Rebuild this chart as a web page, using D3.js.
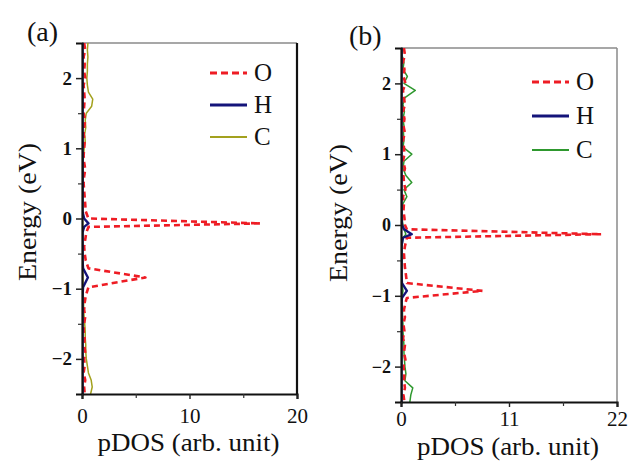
<!DOCTYPE html>
<html>
<head>
<meta charset="utf-8">
<script src="https://cdn.jsdelivr.net/npm/d3@7"></script>
<style>
  body { margin: 0; background: #fff; }
</style>
</head>
<body>
<svg id="chart" width="630" height="463"></svg>
<script>
// panel (a)
const energyA = [2.5,2.4,2.3,2.2,2.1,2.0,1.9,1.8,1.7,1.6,1.5,1.4,1.3,1.2,1.1,1.0,0.9,0.8,0.7,0.6,0.5,0.4,0.3,0.2,0.1,0.0,
  -0.07,-0.12,-0.2,-0.3,-0.4,-0.5,-0.6, -0.71,-0.84,-0.98,
  -1.1,-1.2,-1.3,-1.4,-1.5,-1.6,-1.7,-1.8,-1.9,-2.0,-2.1,-2.2,-2.3,-2.4,-2.5];
const oA = [0.2,0.3,0.15,0.25,0.2,0.3,0.15,0.2,0.25,0.2,0.15,0.3,0.2,0.15,0.25,0.2,0.15,0.2,0.3,0.2,0.15,0.2,0.25,0.3,0.35,0.6,
  16.6,0.6,0.4,0.3,0.2,0.25,0.35, 0.6,5.9,0.6,
  0.35,0.25,0.2,0.3,0.2,0.15,0.25,0.2,0.3,0.2,0.25,0.15,0.3,0.2,0.25];
const hA = [0.05,0.05,0.05,0.05,0.05,0.05,0.05,0.05,0.05,0.05,0.05,0.05,0.05,0.05,0.05,0.05,0.05,0.05,0.05,0.05,0.05,0.05,0.05,0.05,0.05,0.2,
  0.6,0.2,0.05,0.05,0.05,0.05,0.05, 0.1,0.55,0.1,
  0.05,0.05,0.05,0.05,0.05,0.05,0.05,0.05,0.05,0.05,0.05,0.05,0.05,0.05,0.05];
const cA = [0.55,0.5,0.55,0.5,0.5,0.45,0.5,0.6,1.0,0.9,0.4,0.3,0.35,0.25,0.3,0.2,0.15,0.1,0.1,0.12,0.08,0.05,0.05,0.05,0.04,0.05,
  0.05,0.05,0.04,0.04,0.05,0.05,0.06, 0.07,0.08,0.1,
  0.12,0.15,0.15,0.2,0.25,0.3,0.3,0.35,0.35,0.4,0.5,0.6,0.85,0.95,0.8];

// panel (b)
const energyB = [2.5,2.4,2.3,2.2,2.1,2.0,1.9,1.8,1.7,1.6,1.5,1.4,1.3,1.2,1.1,1.0,0.9,0.8,0.7,0.6,0.5,0.4,0.3,0.2,0.1,0.0,
  -0.06,-0.13,-0.18,-0.3,-0.4,-0.5,-0.6,-0.7, -0.82,-0.93,-1.03,
  -1.1,-1.2,-1.3,-1.4,-1.5,-1.6,-1.7,-1.8,-1.9,-2.0,-2.1,-2.2,-2.3,-2.4,-2.5];
const oB = [0.3,0.4,0.2,0.35,0.25,0.45,0.2,0.3,0.4,0.2,0.35,0.25,0.4,0.2,0.3,0.35,0.2,0.4,0.25,0.3,0.45,0.2,0.3,0.25,0.35,0.4,
  0.6,20.4,0.6,0.4,0.3,0.35,0.4,0.5, 0.6,8.3,0.6,
  0.45,0.3,0.4,0.25,0.35,0.2,0.4,0.3,0.45,0.25,0.35,0.3,0.4,0.25,0.35];
const hB = [0.05,0.05,0.05,0.05,0.05,0.05,0.05,0.05,0.05,0.05,0.05,0.05,0.05,0.05,0.05,0.05,0.05,0.05,0.05,0.05,0.05,0.05,0.05,0.05,0.05,0.1,
  0.3,1.1,0.2,0.05,0.05,0.05,0.05,0.05, 0.1,0.6,0.1,
  0.05,0.05,0.05,0.05,0.05,0.05,0.05,0.05,0.05,0.05,0.05,0.05,0.05,0.05,0.05];
const cB = [0.2,0.1,0.3,0.2,0.65,0.3,1.45,0.4,0.2,0.35,0.2,0.3,0.25,0.3,0.2,1.1,0.3,0.2,0.5,1.1,0.3,0.6,0.2,0.1,0.1,0.2,
  0.3,0.5,0.2,0.1,0.1,0.1,0.1,0.1, 0.1,0.2,0.1,
  0.1,0.15,0.15,0.2,0.2,0.25,0.3,0.3,0.35,0.4,0.5,0.4,1.2,1.0,0.9];

const yTicks = [-2, -1, 0, 1, 2];
const yMinor = [-1.5, -0.5, 0.5, 1.5];
const xTicksA = [0, 10, 20], xMinorA = [5, 15];
const xTicksB = [0, 11, 22], xMinorB = [5.5, 16.5];
const seriesNames = ['O', 'H', 'C'];

const serif = '"Liberation Serif"';
const svg = d3.select('#chart');

function drawPanel(p) {
    const x = d3.scaleLinear().domain(p.xDomain).range([p.left, p.right]);
    const y = d3.scaleLinear().domain([-2.5, 2.5]).range([p.bottom, p.top]);
    const g = svg.append('g');

    g.append('clipPath').attr('id', 'clip' + p.id)
        .append('rect').attr('x', p.left).attr('y', p.top)
        .attr('width', p.right - p.left).attr('height', p.bottom - p.top);

    // frame: top/right thin, left/bottom via axes
    g.append('line').attr('x1', p.left).attr('x2', p.right).attr('y1', p.top).attr('y2', p.top)
        .attr('stroke', '#8a8a8a').attr('stroke-width', 1.3);
    g.append('line').attr('x1', p.right).attr('x2', p.right).attr('y1', p.top).attr('y2', p.bottom)
        .attr('stroke', p.rightColor).attr('stroke-width', p.rightWidth);

    const styles = [
        { color: '#ee1c24', width: 2.6, dash: '6,4' },
        { color: '#14147a', width: 2.4, dash: null },
        { color: p.cColor, width: 1.5, dash: null }
    ];
    const series = [p.o, p.h, p.c];
    const line = d3.line().x(d => x(d[1])).y(d => y(d[0]));

    const plot = g.append('g').attr('clip-path', `url(#clip${p.id})`);
    [2, 0, 1].forEach(i => {
        plot.append('path')
            .datum(p.energy.map((e, k) => [e, series[i][k]]))
            .attr('d', line)
            .attr('fill', 'none')
            .attr('stroke', styles[i].color)
            .attr('stroke-width', styles[i].width)
            .attr('stroke-dasharray', styles[i].dash)
            .attr('stroke-linejoin', 'round');
    });

    // left axis
    const yAxis = g.append('g').attr('transform', `translate(${p.left},0)`)
        .call(d3.axisLeft(y).tickValues(yTicks).tickSize(6).tickPadding(4).tickFormat(d3.format('d')));
    yAxis.select('.domain').attr('stroke', '#111').attr('stroke-width', 2.2);
    yAxis.selectAll('.tick line').attr('stroke', '#222').attr('stroke-width', 1.5);
    yAxis.selectAll('.tick text').attr('font-size', p.yFont).attr('font-weight', 'bold')
        .style('font-family', serif).attr('fill', '#111');
    g.append('g').attr('transform', `translate(${p.left},0)`)
        .call(d3.axisLeft(y).tickValues(yMinor).tickSize(4).tickFormat(''))
        .call(s => s.select('.domain').remove())
        .selectAll('.tick line').attr('stroke', '#333').attr('stroke-width', 1.2);

    // bottom axis
    const xAxis = g.append('g').attr('transform', `translate(0,${p.bottom})`)
        .call(d3.axisBottom(x).tickValues(p.xTicks).tickSize(5).tickPadding(p.xPad));
    xAxis.select('.domain').attr('stroke', '#111').attr('stroke-width', 2.2);
    xAxis.selectAll('.tick line').attr('stroke', '#222').attr('stroke-width', 1.4);
    xAxis.selectAll('.tick text').attr('font-size', 21)
        .style('font-family', serif).attr('fill', '#111');
    g.append('g').attr('transform', `translate(0,${p.bottom})`)
        .call(d3.axisBottom(x).tickValues(p.xMinor).tickSize(4).tickFormat(''))
        .call(s => s.select('.domain').remove())
        .selectAll('.tick line').attr('stroke', '#333').attr('stroke-width', 1.2);

    // titles
    g.append('text').attr('x', (p.left + p.right) / 2 - 1).attr('y', p.bottom + p.xTitleDy)
        .attr('text-anchor', 'middle').attr('font-size', 25)
        .attr('textLength', 182).attr('lengthAdjust', 'spacingAndGlyphs')
        .style('font-family', serif).attr('fill', '#111').text('pDOS (arb. unit)');
    g.append('text')
        .attr('transform', `translate(${p.yTitleX},${p.yTitleY}) rotate(-90)`)
        .attr('text-anchor', 'middle').attr('font-size', 26)
        .attr('textLength', 138).attr('lengthAdjust', 'spacingAndGlyphs')
        .style('font-family', serif).attr('fill', '#111').text('Energy (eV)');
    g.append('text').attr('x', p.tagX).attr('y', p.tagY)
        .attr('font-size', 28).style('font-family', serif).attr('fill', '#111').text(p.tag);

    // legend
    seriesNames.forEach((name, i) => {
        const ly = p.legendY + i * p.legendStep;
        g.append('line').attr('x1', p.legendX).attr('x2', p.legendX + 37)
            .attr('y1', ly).attr('y2', ly)
            .attr('stroke', styles[i].color)
            .attr('stroke-width', i === 2 ? 2 : 3)
            .attr('stroke-dasharray', i === 0 ? '7,4' : null);
        g.append('text').attr('x', p.legendX + 44).attr('y', ly + 8)
            .attr('font-size', 25).style('font-family', serif).attr('fill', '#111').text(name);
    });
}

drawPanel({
    id: 'a', left: 82, right: 297, top: 43, bottom: 394,
    xDomain: [0, 20], xTicks: xTicksA, xMinor: xMinorA, xPad: 9,
    energy: energyA, o: oA, h: hA, c: cA, cColor: '#a3a11e',
    rightColor: '#111', rightWidth: 2.2, yFont: 19, xTitleDy: 57,
    yTitleX: 36, yTitleY: 212, tag: '(a)', tagX: 27, tagY: 41,
    legendX: 210, legendY: 73, legendStep: 32
});
drawPanel({
    id: 'b', left: 401, right: 617, top: 48, bottom: 402,
    xDomain: [0, 22], xTicks: xTicksB, xMinor: xMinorB, xPad: 4,
    energy: energyB, o: oB, h: hB, c: cB, cColor: '#2e982e',
    rightColor: '#8a8a8a', rightWidth: 1.5, yFont: 18, xTitleDy: 53,
    yTitleX: 347, yTitleY: 213, tag: '(b)', tagX: 349, tagY: 45,
    legendX: 532, legendY: 82, legendStep: 34
});
</script>
</body>
</html>
